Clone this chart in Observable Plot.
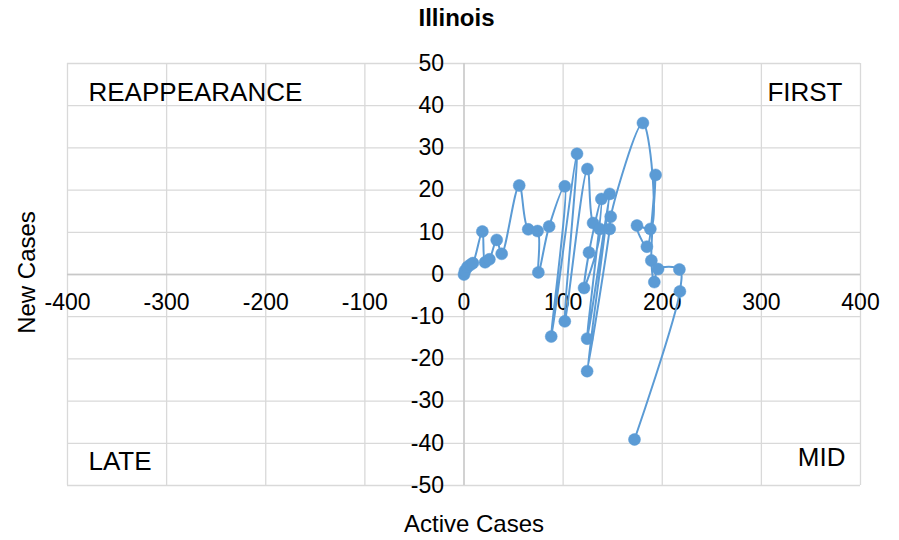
<!DOCTYPE html>
<html><head><meta charset="utf-8">
<script src="https://cdn.jsdelivr.net/npm/d3@7"></script>
<script src="https://cdn.jsdelivr.net/npm/@observablehq/plot@0.6"></script>
<style>body{margin:0;background:#fff;font-family:"Liberation Sans",Arial,sans-serif}</style>
</head><body><div id="chart"></div>
<script>
const title = "Illinois";
const xLabel = "Active Cases";
const yLabel = "New Cases";
const activeCases = [0, 1, 3.5, 6.5, 9, 18.5, 21.3, 25.6, 33, 38, 55.7, 64.8, 74.2, 75, 85.9, 101.7, 88, 114, 101.7, 124.5, 130.2, 136.9, 121.1, 126.1, 138.6, 124.2, 147, 124.2, 147, 148, 180.5, 188, 174.5, 184.5, 193.3, 189, 192, 195.8, 217.3, 217.8, 172];
const newCases = [0, 0.9, 1.8, 2.3, 2.7, 10.2, 2.9, 3.6, 8.2, 4.9, 21.1, 10.7, 10.3, 0.5, 11.4, 20.9, -14.7, 28.6, -11.1, 25.0, 12.2, 10.8, -3.2, 5.2, 17.9, -15.2, 19.1, -22.9, 10.8, 13.7, 35.9, 10.8, 11.6, 6.6, 23.6, 3.3, -1.8, 1.3, 1.2, -4, -39.1];
const xTicks = [-400, -300, -200, -100, 0, 100, 200, 300, 400];
const yTicks = [-50, -40, -30, -20, -10, 0, 10, 20, 30, 40, 50];
const quadrantLabels = ["REAPPEARANCE", "FIRST", "LATE", "MID"];

const data = activeCases.map((x, i) => ({x, y: newCases[i]}));
const blue = "#5B9BD5";
const font = "'Liberation Sans', Arial, sans-serif";

const chart = Plot.plot({
  width: 899, height: 540,
  marginLeft: 67, marginRight: 39, marginTop: 63, marginBottom: 55,
  style: {fontFamily: font, background: "#fff", overflow: "visible"},
  x: {domain: [-400, 400], axis: null},
  y: {domain: [-50, 50], axis: null},
  marks: [
    Plot.ruleX(xTicks, {stroke: "#d9d9d9", strokeWidth: 1.3}),
    Plot.ruleY(yTicks, {stroke: "#d9d9d9", strokeWidth: 1.3}),
    Plot.ruleX([0], {stroke: "#c8c8c8", strokeWidth: 1.3}),
    Plot.ruleY([0], {stroke: "#c8c8c8", strokeWidth: 1.3}),
    Plot.text(xTicks, {x: d => d, y: () => 0, dy: 28, text: d => String(d), fontSize: 23, fill: "#000", lineAnchor: "middle"}),
    Plot.text(yTicks, {x: () => 0, y: d => d, dx: -20, text: d => String(d), textAnchor: "end", fontSize: 23, fill: "#000", lineAnchor: "middle"}),
    Plot.line(data, {x: "x", y: "y", curve: "catmull-rom", stroke: blue, strokeWidth: 2}),
    Plot.dot(data, {x: "x", y: "y", r: 6, fill: blue, stroke: blue, strokeWidth: 0.5}),
    Plot.text([quadrantLabels[0]], {frameAnchor: "top-left", text: d => d, dx: 21, dy: 29, lineAnchor: "middle", fontSize: 26, fill: "#000"}),
    Plot.text([quadrantLabels[1]], {frameAnchor: "top-right", text: d => d, dx: -18, dy: 29, lineAnchor: "middle", fontSize: 26, fill: "#000"}),
    Plot.text([quadrantLabels[2]], {frameAnchor: "bottom-left", text: d => d, dx: 21, dy: -24, lineAnchor: "middle", fontSize: 26, fill: "#000"}),
    Plot.text([quadrantLabels[3]], {frameAnchor: "bottom-right", text: d => d, dx: -15, dy: -28, lineAnchor: "middle", fontSize: 26, fill: "#000"}),
    Plot.text([title], {frameAnchor: "top", text: d => d, dx: -7.5, dy: -45, lineAnchor: "middle", fontSize: 24, fontWeight: "bold", fill: "#000"}),
    Plot.text([xLabel], {frameAnchor: "bottom", text: d => d, dx: 10, dy: 39, lineAnchor: "middle", fontSize: 24, fill: "#000"}),
    Plot.text([yLabel], {frameAnchor: "left", text: d => d, dx: -40, dy: -2, rotate: -90, textAnchor: "middle", lineAnchor: "middle", fontSize: 24, fill: "#000"})
  ]
});
document.getElementById("chart").appendChild(chart);
</script>
</body></html>
